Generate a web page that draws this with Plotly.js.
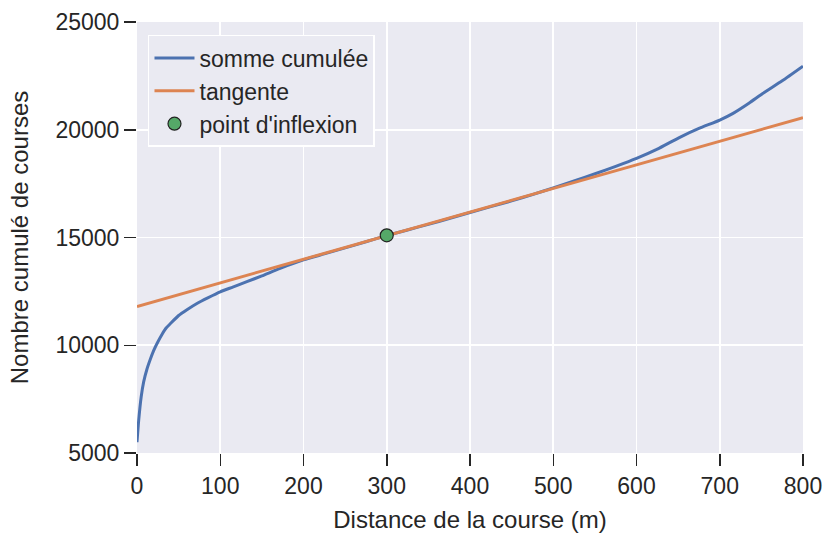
<!DOCTYPE html>
<html>
<head>
<meta charset="utf-8">
<script src="https://cdn.plot.ly/plotly-3.0.1.min.js"></script>
<style>html,body{margin:0;padding:0;background:#fff}#chart{width:827px;height:533px}</style>
</head>
<body>
<div id="chart"></div>
<script>
// Data
const distance = [0, 2, 5, 8, 12, 16, 20, 25, 30, 35, 40, 50, 60, 72, 85, 100, 115, 132, 150, 172, 200, 225, 250, 275, 300, 325, 350, 375, 400, 425, 450, 475, 500, 525, 552, 575, 600, 625, 652, 675, 700, 716, 735, 752, 775, 800];
const cumul = [5500, 6500, 7600, 8300, 8900, 9350, 9750, 10150, 10500, 10800, 11000, 11380, 11650, 11940, 12200, 12480, 12700, 12950, 13220, 13570, 13960, 14240, 14520, 14800, 15090, 15350, 15610, 15880, 16160, 16430, 16700, 16990, 17300, 17620, 17980, 18300, 18670, 19100, 19650, 20060, 20450, 20760, 21230, 21690, 22270, 22950];
const tangentX = [0, 800];
const tangentY = [11800, 20560];
const inflexionX = [300];
const inflexionY = [15100];
const xTicks = [0, 100, 200, 300, 400, 500, 600, 700, 800];
const yTicks = [5000, 10000, 15000, 20000, 25000];

const font = 'Liberation Sans, Arial, sans-serif';
const traces = [
  {x: distance, y: cumul, mode: 'lines', name: 'somme cumulée',
   line: {color: '#4c72b0', width: 3, shape: 'spline', smoothing: 0.6}},
  {x: tangentX, y: tangentY, mode: 'lines', name: 'tangente',
   line: {color: '#dd8452', width: 3}},
  {x: inflexionX, y: inflexionY, mode: 'markers', name: "point d'inflexion",
   marker: {color: '#55a868', size: 13, line: {color: '#222', width: 1.2}}}
];
const layout = {
  width: 827, height: 533,
  margin: {l: 137, r: 24, t: 22, b: 80},
  paper_bgcolor: '#ffffff', plot_bgcolor: '#eaeaf2',
  font: {family: font, size: 23, color: '#262626'},
  showlegend: true,
  legend: {x: 0.0165, y: 0.97, xanchor: 'left', yanchor: 'top',
    bgcolor: '#eaeaf2', bordercolor: '#ffffff', borderwidth: 1.5,
    font: {family: font, size: 23, color: '#262626'}, tracegroupgap: 0, itemwidth: 40},
  xaxis: {range: [0, 800], tickvals: xTicks, ticktext: xTicks.map(String),
    showgrid: true, gridcolor: '#ffffff', gridwidth: 1.8, zeroline: false,
    ticks: 'outside', ticklen: 12, tickwidth: 1.5, tickcolor: '#262626',
    showline: false, tickfont: {size: 23},
    title: {text: 'Distance de la course (m)', font: {size: 24}, standoff: 13}},
  yaxis: {range: [5000, 25000], tickvals: yTicks, ticktext: yTicks.map(String),
    showgrid: true, gridcolor: '#ffffff', gridwidth: 1.8, zeroline: false,
    ticks: 'outside', ticklen: 12, tickwidth: 1.5, tickcolor: '#262626',
    showline: false, tickfont: {size: 23},
    title: {text: 'Nombre cumulé de courses', font: {size: 24}, standoff: 20}}
};
Plotly.newPlot('chart', traces, layout, {displayModeBar: false, staticPlot: true});
</script>
</body>
</html>
